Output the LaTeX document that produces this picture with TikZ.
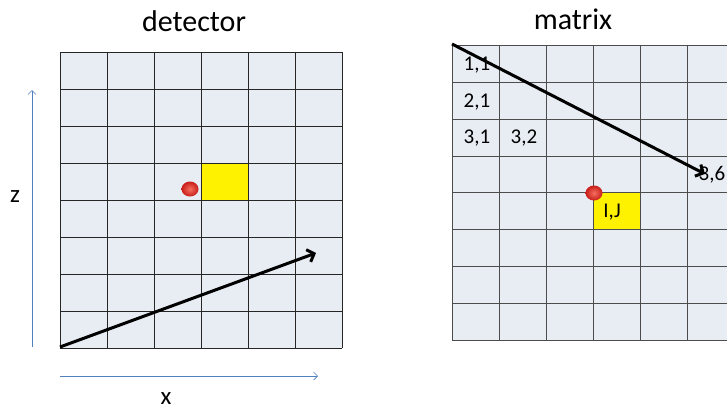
\documentclass[tikz,border=0pt]{standalone}
\usepackage{fontspec}
\setmainfont{Carlito}
\usetikzlibrary{arrows.meta}
\definecolor{cellfill}{RGB}{232,236,243}
\definecolor{axisblue}{RGB}{79,129,189}
\definecolor{ballin}{RGB}{245,110,95}
\definecolor{ballout}{RGB}{200,30,25}
\tikzset{
  gridline/.style={line width=0.9pt},
  bigarrow/.style={line width=3pt,-{Straight Barb[length=6pt,width=13pt,line width=3pt]}},
  axisarrow/.style={axisblue,line width=0.6pt,-{Straight Barb[length=4pt,width=8pt,line width=0.6pt]}},
  title/.style={font=\fontsize{30}{32}\selectfont},
  axlabel/.style={font=\fontsize{25}{27}\selectfont},
  celllabel/.style={font=\fontsize{21}{23}\selectfont,inner sep=0pt},
  hitcell/.style={fill=yellow},
  redball/.style={inner color=ballin,outer color=ballout}
}
\begin{document}
\begin{tikzpicture}[x=1pt,y=-1pt]
\useasboundingbox (0,0) rectangle (727,412);
% ---------- detector ----------
\fill[cellfill] (60,52) rectangle (342,348);
\fill[hitcell] (201,163) rectangle (248,200);
\foreach \i in {0,...,6}{\draw[gridline,black!85] (60+47*\i,52) -- (60+47*\i,348);}
\foreach \j in {0,...,8}{\draw[gridline,black!85] (60,52+37*\j) -- (342,52+37*\j);}
\shade[redball] (190,189) ellipse [x radius=8.5, y radius=7.5];
\node[title] (dettitle) at (194,21) {detector};
\node[axlabel] (zlab) at (15,197) {z};
\node[axlabel] (xlab) at (166,399) {x};
\coordinate (zs) at (32,347);
\coordinate (ze) at (32,90);
\coordinate (xs) at (60,376);
\coordinate (xe) at (318,376);
\draw[axisarrow] (zs) -- (ze);
\draw[axisarrow] (xs) -- (xe);
\coordinate (da) at (60,347);
\coordinate (db) at (316,253);
\draw[bigarrow] (da) -- (db);
% ---------- matrix ----------
\fill[cellfill] (452,45.7) rectangle (727,340.1);
\fill[hitcell] (593,192.9) rectangle (640,229.7);
\foreach \i in {0,...,5}{\draw[gridline,black!70] (452+47*\i,45.7) -- (452+47*\i,340.1);}
\foreach \j in {0,...,8}{\draw[gridline,black!70] (452,45.7+36.8*\j) -- (727,45.7+36.8*\j);}
\node[title] (mattitle) at (573,19) {matrix};
\node[celllabel] (c11) at (477,65) {1,1};
\node[celllabel] (c21) at (477,102) {2,1};
\node[celllabel] (c31) at (477,138) {3,1};
\node[celllabel] (c32) at (524,138) {3,2};
\node[celllabel] (c36) at (712,175) {3,6};
\node[celllabel] (cij) at (612,212) {I,J};
\shade[redball] (594,193) ellipse [x radius=8.5, y radius=7.5];
\coordinate (ma) at (452,44);
\coordinate (mb) at (705,174);
\draw[bigarrow] (ma) -- (mb);
\end{tikzpicture}
\end{document}
